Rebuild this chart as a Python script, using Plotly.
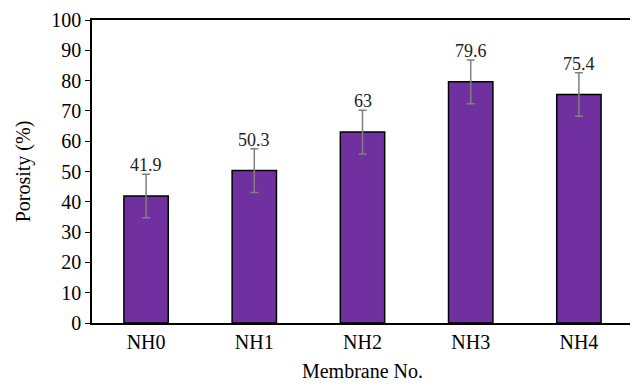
import plotly.graph_objects as go

categories = ["NH0", "NH1", "NH2", "NH3", "NH4"]
porosity = [41.9, 50.3, 63, 79.6, 75.4]
errors = [7.2, 7.2, 7.2, 7.2, 7.2]
labels = ["41.9", "50.3", "63", "79.6", "75.4"]

FONT = "Liberation Serif"

fig = go.Figure()
fig.add_trace(go.Bar(
    x=categories, y=porosity, width=0.41,
    marker=dict(color="#7030A0", line=dict(color="black", width=1.5)),
    error_y=dict(type="data", array=errors, visible=True, color="#808080", thickness=1.5, width=4),
))
for c, v, e, t in zip(categories, porosity, errors, labels):
    fig.add_annotation(x=c, y=v + e, text=t, showarrow=False, yanchor="bottom", yshift=-3,
                       font=dict(family=FONT, size=18, color="#222"))

fig.update_layout(
    width=630, height=379,
    margin=dict(l=84, r=5, t=12, b=64, autoexpand=False),
    paper_bgcolor="white", plot_bgcolor="white",
    showlegend=False,
    font=dict(family=FONT, size=18, color="black"),
    xaxis=dict(showline=True, linecolor="black", linewidth=1.5, mirror=True, ticks="", automargin=False,
               title=dict(text="Membrane No.", font=dict(family=FONT, size=20), standoff=12),
               tickfont=dict(family=FONT, size=20)),
    yaxis=dict(range=[0, 100], dtick=10, showline=True, linecolor="black", linewidth=1.5, mirror=True,
               ticks="outside", ticklen=5, tickcolor="black", showgrid=False, zeroline=False, automargin=False,
               ticklabeloverflow="allow",
               title=dict(text="Porosity (%)", font=dict(family=FONT, size=20), standoff=15),
               tickfont=dict(family=FONT, size=20)),
)
fig.write_html("out.html")
